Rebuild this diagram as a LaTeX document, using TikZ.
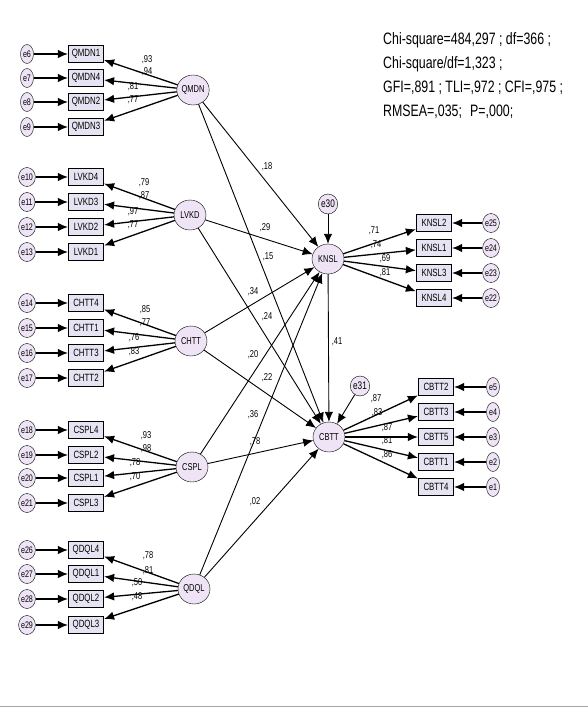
\documentclass[tikz,border=0pt]{standalone}
\usepackage{fontspec}
\setmainfont{Liberation Sans}
\newfontfamily\amosfont[FakeStretch=0.75]{Liberation Sans}
\usetikzlibrary{shapes.geometric, arrows.meta}

\definecolor{latfill}{RGB}{238,228,246}
\definecolor{obsfill}{RGB}{230,228,242}

\tikzset{
  lat/.style={ellipse, draw, fill=latfill, minimum width=32, minimum height=30, inner sep=0pt, font=\amosfont\fontsize{10}{10}\selectfont},
  obs/.style={rectangle, draw, line width=1.2pt, fill=obsfill, minimum width=35, minimum height=17, inner sep=0pt, font=\amosfont\fontsize{10.5}{10}\selectfont},
  err/.style={ellipse, draw, fill=latfill, minimum width=13, minimum height=19, inner sep=0pt, font=\amosfont\fontsize{9.5}{9}\selectfont},
  lbl/.style={inner sep=0pt, font=\amosfont\fontsize{10}{10}\selectfont},
  load/.style={->, line width=1.3pt},
  errarr/.style={->, line width=1.3pt},
  struct/.style={->, line width=0.9pt},
  >={Latex[length=10pt,width=8.5pt]},
}

\begin{document}
\begin{tikzpicture}[x=1pt, y=-1pt]
    \useasboundingbox (0,0) rectangle (588,709);

    % latent variables
    \node[lat] (QMDN) at (193,90) {QMDN};
    \node[lat] (LVKD) at (190,215) {LVKD};
    \node[lat] (CHTT) at (191,341) {CHTT};
    \node[lat] (CSPL) at (192,467) {CSPL};
    \node[lat] (QDQL) at (194,589) {QDQL};
    \node[lat] (KNSL) at (328,259) {KNSL};
    \node[lat] (CBTT) at (329,437) {CBTT};
    \node[err, minimum width=17, minimum height=20, font=\amosfont\fontsize{11}{10}\selectfont] (e30) at (328,204) {e30};
    \node[err, minimum width=17, minimum height=20, font=\amosfont\fontsize{11}{10}\selectfont] (e31) at (360,386) {e31};

    % left indicators
    \foreach \n/\y/\e/\l in {QMDN1/54/6/QMDN, QMDN4/78/7/QMDN, QMDN2/102/8/QMDN, QMDN3/127/9/QMDN,
        LVKD4/177/10/LVKD, LVKD3/202/11/LVKD, LVKD2/227/12/LVKD, LVKD1/252/13/LVKD,
        CHTT4/303/14/CHTT, CHTT1/328/15/CHTT, CHTT3/353/16/CHTT, CHTT2/378/17/CHTT,
        CSPL4/430/18/CSPL, CSPL2/455/19/CSPL, CSPL1/478/20/CSPL, CSPL3/503/21/CSPL,
        QDQL4/550/26/QDQL, QDQL1/574/27/QDQL, QDQL2/599/28/QDQL, QDQL3/625/29/QDQL} {
        \node[obs] (\n) at (86,\y) {\n};
        \node[err] (e\e) at (27,\y) {e\e};
        \draw[errarr] (e\e) -- (\n);
        \draw[load] (\l) -- (\n);
    }

    % right indicators
    \foreach \n/\x/\y/\e/\l in {KNSL2/434/223/25/KNSL, KNSL1/434/248/24/KNSL, KNSL3/434/273/23/KNSL, KNSL4/434/298/22/KNSL,
        CBTT2/436/387/5/CBTT, CBTT3/436/412/4/CBTT, CBTT5/436/437/3/CBTT, CBTT1/436/462/2/CBTT, CBTT4/436/487/1/CBTT} {
        \node[obs] (\n) at (\x,\y) {\n};
        \node[err] (e\e) at (\x+57,\y) {e\e};
        \draw[errarr] (e\e) -- (\n);
        \draw[load] (\l) -- (\n);
    }

    % structural paths
    \path[struct]
    (QMDN) edge (KNSL)
    (QMDN) edge (CBTT)
    (LVKD) edge (KNSL)
    (LVKD) edge (CBTT)
    (CHTT) edge (KNSL)
    (CHTT) edge (CBTT)
    (CSPL) edge (KNSL)
    (CSPL) edge (CBTT)
    (QDQL) edge (KNSL)
    (QDQL) edge (CBTT)
    (KNSL) edge (CBTT)
    (e30) edge (KNSL)
    (e31) edge (CBTT);

    % loading labels
    \foreach \v/\x/\y [count=\i] in {93/147/60, 94/147/72, 81/133/87, 77/133/100,
        79/144/183, 87/144/196, 97/133/212, 77/133/225,
        85/145/310, 77/145/323, 76/134/338, 83/134/352,
        93/146/436, 98/146/449, 78/135/463, 70/135/477,
        78/148/556, 81/148/571, 50/137/583, 48/137/597,
        71/374/231, 74/376/245, 69/385/259, 81/385/273,
        87/376/399, 83/377/413, 87/387/428, 81/387/441, 86/387/455} {
        \node[lbl] (ld\i) at (\x,\y) {,\v};
    }

    % path labels
    \foreach \v/\x/\y [count=\i] in {18/267/167, 29/265/228, 15/268/257, 34/253/292, 24/267/317,
        41/337/342, 20/253/355, 22/267/378, 36/253/415, 78/255/442, 02/255/502} {
        \node[lbl] (pl\i) at (\x,\y) {,\v};
    }

    % fit indices
    \node[anchor=north west, align=left, inner sep=0pt, font=\amosfont\fontsize{16.5}{24}\selectfont] (fit) at (383,32)
        {Chi-square=484,297 ; df=366 ;\\Chi-square/df=1,323 ;\\GFI=,891 ; TLI=,972 ; CFI=,975 ;\\RMSEA=,035;\enspace P=,000;};

    \draw[gray!70, line width=1.5pt] (0,706.5) -- (588,706.5);
\end{tikzpicture}
\end{document}
